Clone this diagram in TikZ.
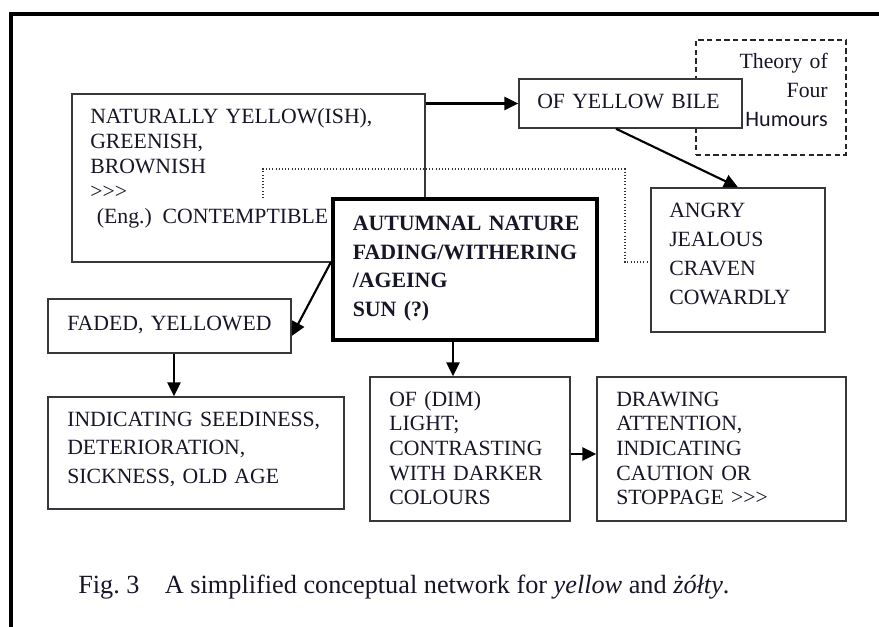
\documentclass[tikz,border=0pt]{standalone}
\usepackage{fontspec}
\setmainfont{Liberation Serif}
\newfontfamily\humfont{Carlito}
\usetikzlibrary{arrows.meta,calc}
\definecolor{ink}{RGB}{22,22,40}
\definecolor{boxline}{RGB}{55,55,60}
\tikzset{
  boxnode/.style={draw=boxline, line width=1.1pt, fill=white, inner sep=0pt, rectangle},
  mainbox/.style={draw=black, line width=3pt, fill=white, inner sep=0pt, rectangle},
  theorybox/.style={draw=black!85, line width=1.1pt, dash pattern=on 4pt off 2.5pt, inner sep=0pt, rectangle},
  txt/.style={anchor=base west, inner sep=0pt, text width=250pt, text=ink},
  lsp/.style={font=\fontsize{16.3pt}{#1}\selectfont},
  arr/.style={draw=black, line width=1.6pt, -{Triangle[length=10.5pt,width=10pt]}},
  dotline/.style={draw=black!80, line width=0.8pt, dash pattern=on 0.8pt off 1.6pt}
}
\begin{document}
\begin{tikzpicture}[x=0.75pt,y=-0.75pt]
\useasboundingbox (0,0) rectangle (879,626);
% outer frame (top and left)
\draw[line width=3.4pt, line join=miter] (10.8,630) -- (10.8,13.8) -- (882,13.8);

% box A
\node[boxnode, minimum width=264.75pt, minimum height=126pt] (A) at (248.5,178) {};
\node[txt, lsp=18.75pt] (tA) at (90,123) {NATURALLY YELLOW(ISH),\\GREENISH,\\BROWNISH\\>{}>{}>\\\hspace*{5pt}(Eng.) CONTEMPTIBLE};

% theory box
\node[theorybox, minimum width=112.5pt, minimum height=86.25pt] (T) at (771,97.5) {};
\node[anchor=base east, inner sep=0pt, text width=90pt, text=ink, font=\fontsize{16.3pt}{22.1pt}\selectfont] (tT) at (828,68)
  {\raggedleft Theory of\\Four\\{\humfont\fontsize{16.6pt}{22.1pt}\selectfont Humours}\par};

% box B
\node[boxnode, minimum width=167.25pt, minimum height=36.75pt] (B) at (630.5,103.5) {};
\node[txt, lsp=18pt] (tB) at (537,108.3) {OF YELLOW BILE};

% box C
\node[boxnode, minimum width=130.5pt, minimum height=108pt] (C) at (738,260) {};
\node[txt, lsp=21.75pt] (tC) at (669,217) {ANGRY\\JEALOUS\\CRAVEN\\COWARDLY};

% dotted link
\coordinate (dstart) at (263,198);
\draw[dotline] (dstart) -- (263,169) -- (625,169) -- (625,262) -- (C.west |- 0,262);

% main box D
\node[mainbox, minimum width=198pt, minimum height=105.75pt] (D) at (465,269.5) {};
\node[txt, font=\fontsize{16.4pt}{21.5pt}\selectfont\bfseries] (tD) at (352.5,230.5) {AUTUMNAL NATURE\\FADING/WITHERING\\/AGEING\\SUN (?)};

% box E
\node[boxnode, minimum width=182.25pt, minimum height=40.5pt] (E) at (169.5,326) {};
\node[txt, lsp=18pt] (tE) at (67,330) {FADED, YELLOWED};

% box F
\node[boxnode, minimum width=222pt, minimum height=84pt] (F) at (196,453) {};
\node[txt, lsp=21.5pt] (tF) at (67,426) {INDICATING SEEDINESS,\\DETERIORATION,\\SICKNESS, OLD AGE};

% box G
\node[boxnode, minimum width=150pt, minimum height=108pt] (G) at (470,449) {};
\node[txt, lsp=18.5pt] (tG) at (389,406) {OF (DIM)\\LIGHT;\\CONTRASTING\\WITH DARKER\\COLOURS};

% box H
\node[boxnode, minimum width=186.75pt, minimum height=108pt] (H) at (721.5,449) {};
\node[txt, lsp=18.5pt] (tH) at (616,406) {DRAWING\\ATTENTION,\\INDICATING\\CAUTION OR\\STOPPAGE >{}>{}>};

% connectors
\draw[arr] (A.east |- B.west) -- (B.west);
\draw[arr] ($(B.south)+(-14.5,0)$) -- (C.north);
\draw[arr] ($(D.west)+(0,-7.5)$) -- ($(E.east)+(0,10)$);
\coordinate (ef) at ($(E.south)+(4.5,0)$);
\draw[arr] (ef) -- (ef |- F.north);
\coordinate (dg) at ($(D.south)+(-12,0)$);
\draw[arr] (dg) -- (dg |- G.north);
\coordinate (gh) at ($(G.east)+(0,5)$);
\draw[arr] (gh) -- (gh -| H.west);

% caption
\node[anchor=base west, inner sep=0pt, text=ink, font=\fontsize{19.7pt}{24pt}\selectfont] (cap) at (78,593)
  {Fig.~3\hspace{19pt}A simplified conceptual network for \textit{yellow} and \textit{żółty}.};
\end{tikzpicture}
\end{document}
